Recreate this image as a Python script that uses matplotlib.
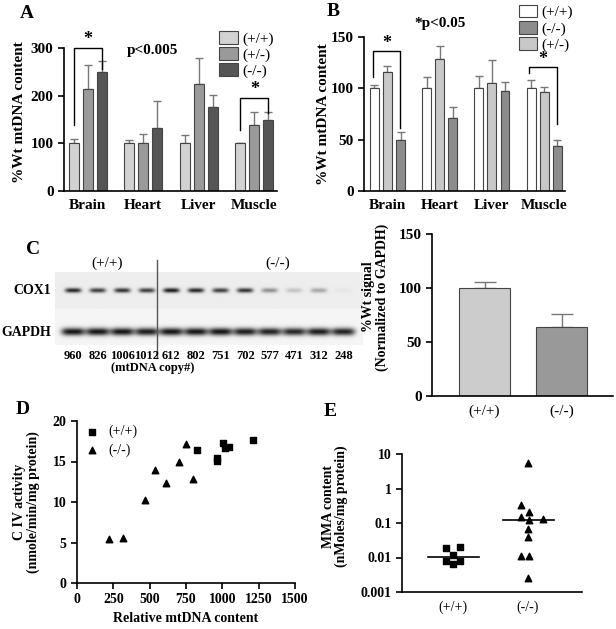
import numpy as np
import matplotlib
matplotlib.use("Agg")
import matplotlib.pyplot as plt
from matplotlib.patches import Patch

plt.rcParams['font.family'] = ['Liberation Serif', 'DejaVu Serif']
plt.rcParams['font.weight'] = 'bold'
plt.rcParams['axes.labelweight'] = 'bold'
plt.rcParams['axes.linewidth'] = 1.2

W, H = 616, 629

# ---- data ----
tissues = ['Brain', 'Heart', 'Liver', 'Muscle']

# panel A (mean, upper error)
a_groups = ['(+/+)', '(+/-)', '(-/-)']
a_wt = [100, 100, 100, 100]
a_het = [215, 100, 225, 139]
a_ko = [250, 133, 177, 150]
a_wt_err = [10, 7, 18, 1]
a_het_err = [50, 20, 53, 26]
a_ko_err = [23, 55, 24, 15]

# panel B
b_wt = [100, 100, 100, 100]
b_het = [116, 129, 105, 96]
b_ko = [50, 71, 97, 44]
b_wt_err = [3, 11, 12, 8]
b_het_err = [6, 12, 23, 5]
b_ko_err = [7, 11, 9, 6]

# panel C blot
copy_number = [960, 826, 1006, 1012, 612, 802, 751, 702, 577, 471, 312, 248]
cox1_signal = [0.85, 0.75, 0.8, 0.75, 0.9, 0.85, 0.75, 0.8, 0.4, 0.18, 0.3, 0.03]
gapdh_signal = [0.95, 0.95, 0.95, 0.92, 0.95, 0.95, 0.95, 0.92, 0.9, 0.88, 0.92, 0.9]

# panel C bar chart
c_groups = ['(+/+)', '(-/-)']
c_vals = [100, 64]
c_err = [6, 12]

# panel D
d_wt_x = [824, 960, 965, 1007, 1015, 1048, 1209]
d_wt_y = [16.4, 15.4, 15.1, 17.3, 16.7, 16.8, 17.6]
d_ko_x = [750, 704, 537, 610, 800, 468, 222, 314]
d_ko_y = [17.1, 14.9, 14.0, 12.3, 12.9, 10.2, 5.4, 5.6]

# panel E
e_wt = [0.019, 0.020, 0.012, 0.0078, 0.0078, 0.0067]
e_wt_dx = [-0.09, 0.09, 0.0, -0.09, 0.09, 0.0]
e_ko = [5.6, 0.33, 0.21, 0.145, 0.135, 0.12, 0.066, 0.040, 0.0109, 0.0109, 0.0026]
e_ko_dx = [0.0, -0.09, 0.01, -0.09, 0.2, 0.01, 0.0, 0.0, -0.09, 0.01, 0.0]
e_wt_median = 0.0105
e_ko_median = 0.12


def rect(l, t, r, b):
    return [l / W, 1 - b / H, (r - l) / W, (b - t) / H]


def style(ax, xticks=False):
    ax.spines['top'].set_visible(False)
    ax.spines['right'].set_visible(False)
    ax.tick_params(axis='y', direction='out', length=4, width=1.2, labelsize=11)
    if not xticks:
        ax.tick_params(axis='x', length=0, labelsize=11, pad=6)


fig = plt.figure(figsize=(W / 100, H / 100), dpi=100)

# ---------- A ----------
axA = fig.add_axes(rect(64, 48, 277, 191))
x = np.arange(len(tissues))
bw = 0.18
a_cols = ['#d2d2d2', '#9a9a9a', '#555555']
for k, (vals, errs) in enumerate([(a_wt, a_wt_err), (a_het, a_het_err), (a_ko, a_ko_err)]):
    pos = x + (k - 1) * 0.25
    axA.bar(pos, vals, bw, color=a_cols[k], edgecolor='#444444', lw=0.8, zorder=2)
    axA.errorbar(pos, vals, yerr=[np.zeros(4), errs], fmt='none', ecolor='#777777',
                 elinewidth=1, capsize=3, capthick=1, zorder=1)
axA.set_xlim(-0.43, 3.41)
axA.set_ylim(0, 300)
axA.set_yticks([0, 100, 200, 300])
axA.set_xticks(x)
axA.set_xticklabels(tissues)
style(axA)
axA.set_ylabel('%Wt mtDNA content', fontsize=11)
axA.yaxis.set_label_coords(-0.18, 0.55)
axA.plot([-0.25, -0.25, 0.25, 0.25], [138, 301, 301, 255], color='k', lw=1, clip_on=False)
axA.text(0, 300, '*', ha='center', va='bottom', fontsize=13)
axA.plot([2.75, 2.75, 3.25, 3.25], [128, 196, 196, 163], color='k', lw=1, clip_on=False)
axA.text(3, 195, '*', ha='center', va='bottom', fontsize=13)
axA.text(1.17, 295, 'p<0.005', ha='center', va='center', fontsize=11)
hA = [Patch(facecolor=c, edgecolor='#444444', lw=0.8) for c in a_cols]
axA.legend(hA, a_groups, loc='upper left', bbox_to_anchor=(0.73, 1.12), frameon=False,
           borderaxespad=0, borderpad=0, labelspacing=0.1, handletextpad=0.3,
           handlelength=1.2, handleheight=0.9, prop={'weight': 'normal', 'size': 11})
fig.text(27 / W, 1 - 13 / H, 'A', fontsize=14, ha='center', va='center')

# ---------- B ----------
axB = fig.add_axes(rect(364, 37, 565, 191))
bw = 0.17
b_cols = ['#ffffff', '#c8c8c8', '#8c8c8c']
for k, (vals, errs) in enumerate([(b_wt, b_wt_err), (b_het, b_het_err), (b_ko, b_ko_err)]):
    pos = x + (k - 1) * 0.25
    axB.bar(pos, vals, bw, color=b_cols[k], edgecolor='#444444', lw=0.8, zorder=2)
    axB.errorbar(pos, vals, yerr=[np.zeros(4), errs], fmt='none', ecolor='#777777',
                 elinewidth=1, capsize=3, capthick=1, zorder=1)
axB.set_xlim(-0.45, 3.40)
axB.set_ylim(0, 150)
axB.set_yticks([0, 50, 100, 150])
axB.set_xticks(x)
axB.set_xticklabels(tissues)
style(axB)
axB.set_ylabel('%Wt mtDNA content', fontsize=11)
axB.yaxis.set_label_coords(-0.17, 0.5)
axB.plot([-0.28, -0.28, 0.24, 0.24], [111, 136.5, 136.5, 61], color='k', lw=1, clip_on=False)
axB.text(-0.02, 135, '*', ha='center', va='bottom', fontsize=13)
axB.plot([2.71, 2.71, 3.25, 3.25], [115, 121, 121, 65], color='k', lw=1, clip_on=False)
axB.text(2.98, 120, '*', ha='center', va='bottom', fontsize=13)
axB.text(1.0, 163, '*p<0.05', ha='center', va='center', fontsize=11, clip_on=False)
hB = [Patch(facecolor=b_cols[i], edgecolor='#444444', lw=0.8) for i in (0, 2, 1)]
axB.legend(hB, ['(+/+)', '(-/-)', '(+/-)'], loc='upper left', bbox_to_anchor=(0.77, 1.21),
           frameon=False, borderaxespad=0, borderpad=0, labelspacing=0.1, handletextpad=0.3,
           handlelength=1.2, handleheight=0.9, prop={'weight': 'normal', 'size': 11})
fig.text(333 / W, 1 - 12 / H, 'B', fontsize=14, ha='center', va='center')

# ---------- C blot ----------
axW = fig.add_axes(rect(55, 272, 363, 345))
xl, xr = -0.73, 11.79
xs = np.linspace(xl, xr, 500)
ys = np.linspace(0, 73, 160)
X, Y = np.meshgrid(xs, ys)
img = np.where(Y > 36, 0.93, 0.96)
dark = np.zeros_like(X)
for i, v in enumerate(cox1_signal):
    dark += v * np.exp(-((X - i) / 0.33) ** 4) * np.exp(-((Y - 54) / 2.3) ** 2)
for i, v in enumerate(gapdh_signal):
    dark += v * np.exp(-((X - i) / 0.48) ** 4) * np.exp(-((Y - 13) / 3.8) ** 2)
img = img - np.clip(dark, 0, 1) * 0.92
axW.imshow(img, cmap='gray', vmin=0, vmax=1, extent=[xl, xr, 0, 73], origin='lower',
           aspect='auto', interpolation='bilinear')
axW.set_xlim(xl, xr)
axW.set_ylim(0, 73)
axW.axis('off')
axW.plot([3.41, 3.41], [85, -13], color='#555555', lw=1, clip_on=False)
axW.text(1.38, 82, '(+/+)', ha='center', va='center', fontsize=11, weight='normal')
axW.text(8.33, 82, '(-/-)', ha='center', va='center', fontsize=11, weight='normal')
axW.text(-0.9, 54, 'COX1', ha='right', va='center', fontsize=10)
axW.text(-0.9, 13, 'GAPDH', ha='right', va='center', fontsize=10)
for i, n in enumerate(copy_number):
    axW.text(i, -11, str(n), ha='center', va='center', fontsize=9)
axW.text(3.25, -23, '(mtDNA copy#)', ha='center', va='center', fontsize=9)
fig.text(33 / W, 1 - 250 / H, 'C', fontsize=14, ha='center', va='center')

# ---------- C bars ----------
axC = fig.add_axes(rect(432, 234, 613, 396))
axC.bar([0, 1], c_vals, 0.66, color=['#cccccc', '#999999'], edgecolor='#444444', lw=0.8, zorder=2)
axC.errorbar([0, 1], c_vals, yerr=[[0, 0], c_err], fmt='none', ecolor='#777777',
             elinewidth=1, capsize=8, capthick=1, zorder=1)
axC.set_xlim(-0.68, 1.66)
axC.set_ylim(0, 150)
axC.set_yticks([0, 50, 100, 150])
axC.set_xticks([0, 1])
axC.set_xticklabels(c_groups, fontweight='normal')
style(axC)
axC.set_ylabel('%Wt signal\n(Normalized to GAPDH)', fontsize=10, linespacing=1.0)
axC.yaxis.set_label_coords(-0.24, 0.61)

# ---------- D ----------
axD = fig.add_axes(rect(77, 421, 295, 583))
axD.scatter(d_wt_x, d_wt_y, marker='s', s=22, color='k', label='(+/+)', clip_on=False)
axD.scatter(d_ko_x, d_ko_y, marker='^', s=22, color='k', label='(-/-)', clip_on=False)
axD.set_xlim(0, 1500)
axD.set_ylim(0, 20)
axD.set_xticks(np.arange(0, 1501, 250))
axD.set_yticks([0, 5, 10, 15, 20])
axD.spines['top'].set_visible(False)
axD.spines['right'].set_visible(False)
axD.tick_params(direction='out', length=4, width=1.2, labelsize=10)
axD.set_xlabel('Relative mtDNA content', fontsize=10)
axD.set_ylabel('C IV activity\n(nmole/min/mg protein)', fontsize=10, linespacing=1.0)
axD.yaxis.set_label_coords(-0.17, 0.5)
axD.legend(loc='upper left', bbox_to_anchor=(-0.02, 1.01), frameon=False, handletextpad=0.2,
           borderaxespad=0, labelspacing=0.35, prop={'weight': 'normal', 'size': 10})
fig.text(23 / W, 1 - 410 / H, 'D', fontsize=14, ha='center', va='center')

# ---------- E ----------
axE = fig.add_axes(rect(402, 454, 582, 592))
axE.scatter(np.array(e_wt_dx), e_wt, marker='s', s=22, color='k', clip_on=False)
axE.scatter(1 + np.array(e_ko_dx), e_ko, marker='^', s=22, color='k', clip_on=False)
axE.plot([-0.34, 0.34], [e_wt_median] * 2, color='k', lw=1.2)
axE.plot([0.66, 1.34], [e_ko_median] * 2, color='k', lw=1.2)
axE.set_yscale('log')
axE.set_ylim(0.001, 10)
axE.set_yticks([0.001, 0.01, 0.1, 1, 10])
axE.set_yticklabels(['0.001', '0.01', '0.1', '1', '10'])
axE.minorticks_off()
axE.set_xlim(-0.68, 1.72)
axE.set_xticks([0, 1])
axE.set_xticklabels(['(+/+)', '(-/-)'], fontweight='normal')
axE.spines['top'].set_visible(False)
axE.spines['right'].set_visible(False)
axE.tick_params(axis='y', direction='out', length=4, width=1.2, labelsize=10)
axE.tick_params(axis='x', length=0, labelsize=10, pad=6)
axE.set_ylabel('MMA content\n(nMoles/mg protein)', fontsize=10, linespacing=1.0)
axE.yaxis.set_label_coords(-0.3, 0.62)
fig.text(330 / W, 1 - 412 / H, 'E', fontsize=14, ha='center', va='center')

plt.savefig('out.png', dpi=100)
